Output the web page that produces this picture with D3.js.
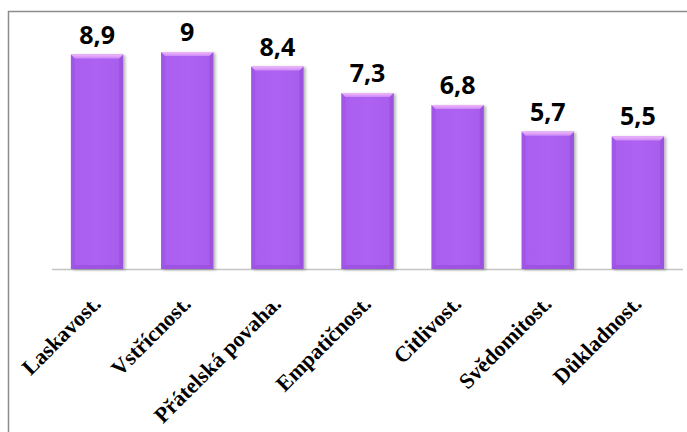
<!DOCTYPE html>
<html>
<head>
<meta charset="utf-8">
<script src="https://cdn.jsdelivr.net/npm/d3@7"></script>
<style>
  html, body { margin: 0; padding: 0; background: #fff; }
  svg { display: block; }
</style>
</head>
<body>
<svg id="chart" width="687" height="432"></svg>
<script>
const categories = ["Laskavost.", "Vstřícnost.", "Přátelská povaha.", "Empatičnost.", "Citlivost.", "Svědomitost.", "Důkladnost."];
const values = [8.9, 9, 8.4, 7.3, 6.8, 5.7, 5.5];
const valueLabels = ["8,9", "9", "8,4", "7,3", "6,8", "5,7", "5,5"];

const svg = d3.select("#chart");
const W = 687, H = 432;
const plot = { left: 52, right: 683, top: 28, bottom: 269 };

// frame
svg.append("line").attr("x1", 8.5).attr("x2", 8.5).attr("y1", 11).attr("y2", H)
  .attr("stroke", "#8c8c8c").attr("stroke-width", 1.5);
svg.append("line").attr("x1", 8).attr("x2", W).attr("y1", 11.5).attr("y2", 11.5)
  .attr("stroke", "#8c8c8c").attr("stroke-width", 1.5);

const x = d3.scaleBand().domain(categories).range([plot.left, plot.right])
  .paddingInner(0.42).paddingOuter(0.21);
const y = d3.scaleLinear().domain([0, 10]).range([plot.bottom, plot.top]);

const defs = svg.append("defs");
const gTop = defs.append("linearGradient").attr("id", "gTop").attr("x1", 0).attr("y1", 0).attr("x2", 0).attr("y2", 1);
gTop.append("stop").attr("offset", "0%").attr("stop-color", "#f2b6fb");
gTop.append("stop").attr("offset", "100%").attr("stop-color", "#c98af6");
const gBody = defs.append("linearGradient").attr("id", "gBody").attr("x1", 0).attr("y1", 0).attr("x2", 1).attr("y2", 0);
gBody.append("stop").attr("offset", "0%").attr("stop-color", "#a95eef");
gBody.append("stop").attr("offset", "50%").attr("stop-color", "#ae62f2");
gBody.append("stop").attr("offset", "100%").attr("stop-color", "#a75cec");
const shadow = defs.append("filter").attr("id", "shadow").attr("x", "-20%").attr("y", "-5%").attr("width", "140%").attr("height", "110%");
shadow.append("feGaussianBlur").attr("in", "SourceAlpha").attr("stdDeviation", 1.5).attr("result", "b");
shadow.append("feOffset").attr("in", "b").attr("dx", 1.5).attr("dy", 1).attr("result", "o");
shadow.append("feComponentTransfer").attr("in", "o").attr("result", "s")
  .append("feFuncA").attr("type", "linear").attr("slope", 0.3);
const merge = shadow.append("feMerge");
merge.append("feMergeNode").attr("in", "s");
merge.append("feMergeNode").attr("in", "SourceGraphic");

// baseline
svg.append("line").attr("x1", plot.left).attr("x2", plot.right)
  .attr("y1", plot.bottom + 0.5).attr("y2", plot.bottom + 0.5)
  .attr("stroke", "#c4c4c4").attr("stroke-width", 1.5);

const bev = 4;
const bars = svg.append("g").selectAll("g").data(categories).join("g")
  .attr("filter", "url(#shadow)");
bars.append("rect")
  .attr("x", d => x(d)).attr("width", x.bandwidth())
  .attr("y", (d, i) => y(values[i])).attr("height", (d, i) => y(0) - y(values[i]))
  .attr("fill", "url(#gBody)");
bars.append("path").attr("fill", "#9a50df").attr("opacity", 0.5)
  .attr("d", (d, i) => {
    const x0 = x(d), y0 = y(values[i]), y1 = y(0);
    return `M${x0},${y0}L${x0 + bev},${y0 + bev}L${x0 + bev},${y1 - bev}L${x0},${y1}Z`;
  });
bars.append("path").attr("fill", "#8d48d2").attr("opacity", 0.5)
  .attr("d", (d, i) => {
    const x1 = x(d) + x.bandwidth(), y0 = y(values[i]), y1 = y(0);
    return `M${x1},${y0}L${x1 - bev},${y0 + bev}L${x1 - bev},${y1 - bev}L${x1},${y1}Z`;
  });
bars.append("path").attr("fill", "#9046d6").attr("opacity", 0.5)
  .attr("d", (d, i) => {
    const x0 = x(d), x1 = x0 + x.bandwidth(), y1 = y(0);
    return `M${x0},${y1}L${x0 + bev},${y1 - bev}L${x1 - bev},${y1 - bev}L${x1},${y1}Z`;
  });
bars.append("path").attr("fill", "url(#gTop)")
  .attr("d", (d, i) => {
    const x0 = x(d), x1 = x0 + x.bandwidth(), y0 = y(values[i]);
    return `M${x0},${y0}L${x1},${y0}L${x1 - bev},${y0 + bev}L${x0 + bev},${y0 + bev}Z`;
  });

// value labels
svg.append("g").selectAll("text").data(categories).join("text")
  .attr("x", d => x(d) + x.bandwidth() / 2)
  .attr("y", (d, i) => y(values[i]) - 11)
  .attr("text-anchor", "middle")
  .attr("font-family", "'Open Sans', sans-serif")
  .attr("font-weight", 700)
  .attr("font-size", 25)
  .attr("fill", "#000")
  .text((d, i) => valueLabels[i]);

// category labels
svg.append("g").selectAll("text").data(categories).join("text")
  .attr("transform", d => `translate(${x(d) + x.bandwidth() / 2 + 5},305) rotate(-45)`)
  .attr("text-anchor", "end")
  .attr("font-family", "'Liberation Serif', 'Times New Roman', serif")
  .attr("font-weight", 700)
  .attr("font-size", 22)
  .attr("fill", "#000")
  .text(d => d);
</script>
</body>
</html>
